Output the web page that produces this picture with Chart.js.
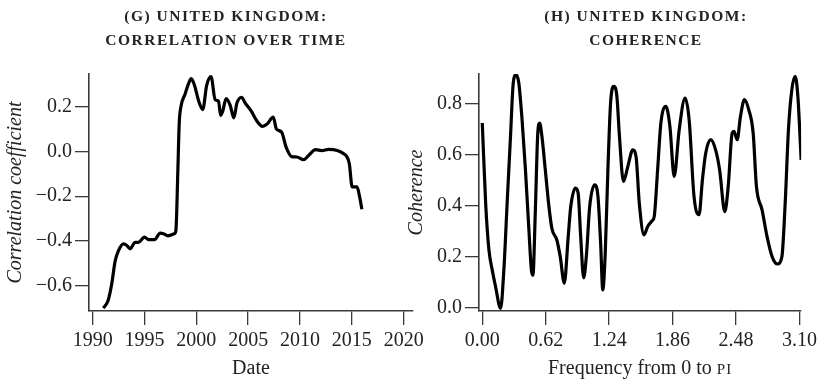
<!DOCTYPE html>
<html>
<head>
<meta charset="utf-8">
<script src="https://cdn.jsdelivr.net/npm/chart.js@4"></script>
<style>
  html, body { margin: 0; padding: 0; background: #ffffff; }
  #wrap { position: relative; width: 821px; height: 386px; overflow: hidden; background: #ffffff; }
  canvas { position: absolute; top: 0; }
  #corrChart { left: 0; }
  #cohChart { left: 400px; }
</style>
</head>
<body>
<div id="wrap">
  <canvas id="corrChart" width="450" height="386" style="width:450px;height:386px"></canvas>
  <canvas id="cohChart" width="421" height="386" style="width:421px;height:386px"></canvas>
</div>
<script>
// ---- Panel (g): rolling correlation over time ----
const corrYears = [
  1991.04, 1991.5, 1991.85, 1992.17, 1992.5, 1992.97, 1993.3, 1993.62, 1994.1, 1994.42,
  1995.0, 1995.39, 1995.97, 1996.52, 1996.84, 1997.26, 1997.87, 1998.03, 1998.22, 1998.35,
  1998.51, 1998.93, 1999.25, 1999.51, 1999.83, 2000.21, 2000.62, 2001.0, 2001.42, 2001.82,
  2002.14, 2002.35, 2002.55, 2002.88, 2003.27, 2003.62, 2003.92, 2004.37, 2004.72, 2005.3,
  2005.85, 2006.38, 2006.8, 2007.42, 2007.72, 2008.23, 2008.68, 2009.19, 2009.7, 2010.35,
  2010.83, 2011.5, 2012.1, 2012.76, 2013.6, 2014.2, 2014.5, 2014.76, 2015.03, 2015.5,
  2015.74, 2015.97
];
const corrValues = [
  -0.700, -0.665, -0.590, -0.490, -0.443, -0.413, -0.420, -0.435, -0.406, -0.406,
  -0.383, -0.394, -0.394, -0.365, -0.368, -0.377, -0.368, -0.353, -0.085, 0.124,
  0.198, 0.258, 0.303, 0.325, 0.295, 0.228, 0.187, 0.295, 0.334, 0.231,
  0.225, 0.161, 0.180, 0.236, 0.206, 0.150, 0.216, 0.242, 0.216, 0.180,
  0.136, 0.112, 0.121, 0.153, 0.101, 0.086, 0.017, -0.023, -0.025, -0.037,
  -0.018, 0.008, 0.004, 0.009, 0.004, -0.010, -0.022, -0.055, -0.158, -0.158,
  -0.200, -0.258
];
const corrXTicks = [1990, 1995, 2000, 2005, 2010, 2015, 2020];
const corrYTicks = [-0.6, -0.4, -0.2, 0.0, 0.2];

// ---- Panel (h): coherence across frequencies ----
const cohFreq = [
  0.000, 0.033, 0.065, 0.097, 0.130, 0.179, 0.211, 0.243, 0.276, 0.303,
  0.330, 0.357, 0.389, 0.422, 0.454, 0.480, 0.495, 0.519, 0.541, 0.561,
  0.583, 0.616, 0.648, 0.680, 0.729, 0.762, 0.802, 0.840, 0.865, 0.911,
  0.937, 0.962, 0.991, 1.017, 1.050, 1.098, 1.131, 1.157, 1.178, 1.202,
  1.228, 1.254, 1.287, 1.316, 1.341, 1.380, 1.423, 1.471, 1.503, 1.535,
  1.581, 1.617, 1.660, 1.681, 1.714, 1.746, 1.795, 1.834, 1.876, 1.925,
  1.983, 2.022, 2.070, 2.119, 2.152, 2.184, 2.233, 2.281, 2.320, 2.371,
  2.404, 2.443, 2.460, 2.492, 2.524, 2.563, 2.605, 2.648, 2.680, 2.735,
  2.784, 2.833, 2.886, 2.929, 2.961, 2.993, 3.026, 3.058, 3.085, 3.117
];
const cohValues = [
  0.723, 0.409, 0.226, 0.148, 0.082, -0.003, 0.148, 0.409, 0.671, 0.880,
  0.912, 0.880, 0.736, 0.540, 0.318, 0.148, 0.127, 0.383, 0.671, 0.723,
  0.671, 0.540, 0.409, 0.311, 0.265, 0.200, 0.096, 0.278, 0.396, 0.468,
  0.449, 0.278, 0.117, 0.200, 0.396, 0.481, 0.435, 0.252, 0.070, 0.213,
  0.540, 0.800, 0.867, 0.827, 0.671, 0.494, 0.553, 0.618, 0.592, 0.409,
  0.285, 0.318, 0.340, 0.357, 0.540, 0.723, 0.788, 0.710, 0.514, 0.697,
  0.821, 0.736, 0.435, 0.364, 0.501, 0.605, 0.658, 0.618, 0.540, 0.376,
  0.475, 0.684, 0.690, 0.658, 0.749, 0.815, 0.775, 0.684, 0.475, 0.383,
  0.278, 0.200, 0.171, 0.200, 0.409, 0.697, 0.854, 0.906, 0.827, 0.579
];
const cohXTicks = [0.00, 0.62, 1.24, 1.86, 2.48, 3.10];
const cohYTicks = [0.0, 0.2, 0.4, 0.6, 0.8];

// ---- Shared styling ----
const SERIF = '"Liberation Serif", "Times New Roman", serif';
const INK = '#222222';
const AXIS = '#3a3a3a';
const tickFont = { family: SERIF, size: 20 };
const labelFont = { family: SERIF, size: 20 };

function toPoints(xs, ys) {
  return xs.map((x, i) => ({ x: x, y: ys[i] }));
}
function fmt(v, digits) {
  return v.toFixed(digits).replace('-', '\u2212');
}
function fixedTicks(list) {
  return (scale) => { scale.ticks = list.map(v => ({ value: v })); };
}

// Two-line small-capital panel heading plus an optional mixed-case axis title
const panelText = {
  id: 'panelText',
  afterDraw(chart, args, opts) {
    const ctx = chart.ctx;
    ctx.save();
    ctx.fillStyle = INK;
    ctx.textBaseline = 'alphabetic';
    ctx.textAlign = 'center';
    ctx.font = 'bold 15.5px ' + SERIF;
    if ('letterSpacing' in ctx) ctx.letterSpacing = '1.5px';
    opts.heading.forEach((line, i) => {
      ctx.fillText(line, opts.cx, opts.base0 + i * opts.gap);
    });
    if ('letterSpacing' in ctx) ctx.letterSpacing = '0px';

    if (opts.xTitle) {
      const area = chart.chartArea;
      const cx = (area.left + area.right) / 2;
      const plainFont = '20px ' + SERIF;
      const capsFont = '15px ' + SERIF;
      ctx.font = plainFont;
      const w1 = ctx.measureText(opts.xTitle[0]).width;
      ctx.font = capsFont;
      if ('letterSpacing' in ctx) ctx.letterSpacing = '1px';
      const w2 = ctx.measureText(opts.xTitle[1]).width;
      if ('letterSpacing' in ctx) ctx.letterSpacing = '0px';
      const x = cx - (w1 + w2) / 2;
      ctx.textAlign = 'left';
      ctx.font = plainFont;
      ctx.fillText(opts.xTitle[0], x, opts.xTitleBase);
      ctx.font = capsFont;
      if ('letterSpacing' in ctx) ctx.letterSpacing = '1px';
      ctx.fillText(opts.xTitle[1], x + w1, opts.xTitleBase);
    }
    ctx.restore();
  }
};

function axisGrid() {
  return {
    display: true,
    drawOnChartArea: false,
    drawTicks: true,
    tickLength: 14,
    color: AXIS,
    lineWidth: 1.3
  };
}
function axisBorder() {
  return { display: true, color: AXIS, width: 1.6 };
}

const lineStyle = {
  borderColor: '#000000',
  borderWidth: 3.2,
  pointRadius: 0,
  fill: false,
  cubicInterpolationMode: 'monotone',
  borderJoinStyle: 'round',
  borderCapStyle: 'butt'
};

// Panel (g)
new Chart(document.getElementById('corrChart'), {
  type: 'line',
  data: {
    datasets: [Object.assign({ data: toPoints(corrYears, corrValues) }, lineStyle)]
  },
  options: {
    responsive: false,
    animation: false,
    events: [],
    layout: { padding: { top: 74, right: 37, bottom: 0, left: 0 } },
    plugins: {
      legend: { display: false },
      tooltip: { enabled: false },
      panelText: {
        heading: ['(G) UNITED KINGDOM:', 'CORRELATION OVER TIME'],
        cx: 226, base0: 21, gap: 23.5
      }
    },
    scales: {
      x: {
        type: 'linear',
        min: 1989.65,
        max: 2020.9,
        afterBuildTicks: fixedTicks(corrXTicks),
        afterFit: (s) => { s.height = 75; },
        grid: axisGrid(),
        border: axisBorder(),
        ticks: {
          font: tickFont, color: INK, padding: 4, maxRotation: 0, autoSkip: false,
          callback: (v) => String(v)
        },
        title: {
          display: true, text: 'Date', font: labelFont, color: INK,
          padding: { top: 0, bottom: 5 }
        }
      },
      y: {
        type: 'linear',
        min: -0.713,
        max: 0.346,
        afterBuildTicks: fixedTicks(corrYTicks),
        afterFit: (s) => { s.width = 89; },
        grid: axisGrid(),
        border: axisBorder(),
        ticks: {
          font: tickFont, color: INK, padding: 3, autoSkip: false,
          callback: (v) => fmt(v, 1)
        },
        title: {
          display: true, text: 'Correlation coefficient',
          font: { family: SERIF, size: 20, style: 'italic' }, color: INK,
          padding: { top: 4, bottom: 0 }
        }
      }
    }
  },
  plugins: [panelText]
});

// Panel (h)
new Chart(document.getElementById('cohChart'), {
  type: 'line',
  data: {
    datasets: [Object.assign({ data: toPoints(cohFreq, cohValues) }, lineStyle)]
  },
  options: {
    responsive: false,
    animation: false,
    events: [],
    layout: { padding: { top: 74, right: 18, bottom: 0, left: 0 } },
    plugins: {
      legend: { display: false },
      tooltip: { enabled: false },
      panelText: {
        heading: ['(H) UNITED KINGDOM:', 'COHERENCE'],
        cx: 246, base0: 21, gap: 23.5,
        xTitle: ['Frequency from 0 to ', 'PI'],
        xTitleBase: 374
      }
    },
    scales: {
      x: {
        type: 'linear',
        min: -0.032,
        max: 3.117,
        afterBuildTicks: fixedTicks(cohXTicks),
        afterFit: (s) => { s.height = 75; },
        grid: axisGrid(),
        border: axisBorder(),
        ticks: {
          font: tickFont, color: INK, padding: 4, maxRotation: 0, autoSkip: false,
          callback: (v) => fmt(v, 2)
        }
      },
      y: {
        type: 'linear',
        min: -0.013,
        max: 0.915,
        afterBuildTicks: fixedTicks(cohYTicks),
        afterFit: (s) => { s.width = 79; },
        grid: axisGrid(),
        border: axisBorder(),
        ticks: {
          font: tickFont, color: INK, padding: 3, autoSkip: false,
          callback: (v) => fmt(v, 1)
        },
        title: {
          display: true, text: 'Coherence',
          font: { family: SERIF, size: 20, style: 'italic' }, color: INK,
          padding: { top: 5, bottom: 0 }
        }
      }
    }
  },
  plugins: [panelText]
});
</script>
</body>
</html>
